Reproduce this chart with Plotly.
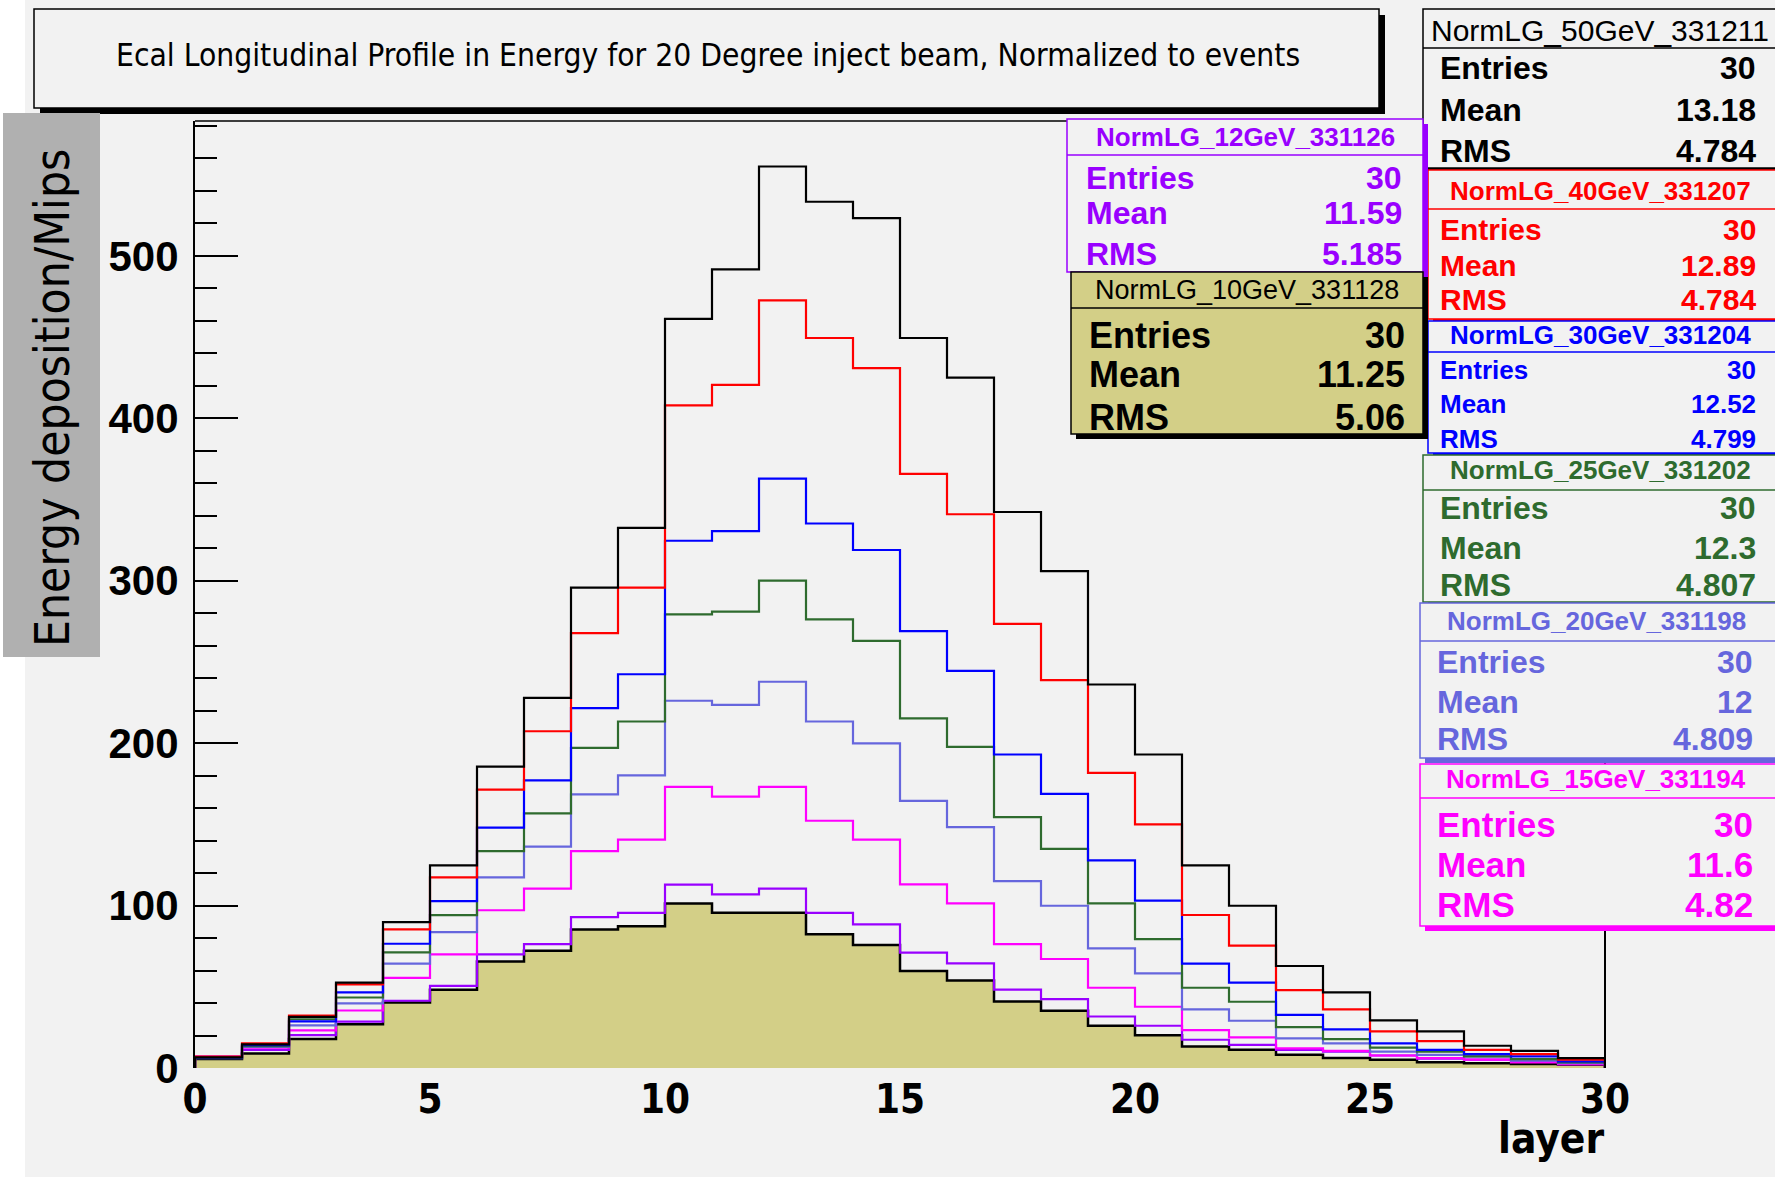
import plotly.graph_objects as go

# ---------------- data ----------------
edges = list(range(31))  # layer bin edges 0..30

e10 = [5.5, 9.0, 17.9, 27.0, 40.4, 48.2, 65.5, 72.2, 85.3, 87.3, 101.2, 95.5, 95.5, 82.4, 75.7,
       59.7, 53.8, 41.0, 35.3, 26.0, 20.1, 13.3, 11.3, 8.1, 6.1, 5.1, 3.6, 3.0, 2.4, 2.0]
e12 = [7.0, 11.1, 20.2, 28.5, 41.4, 50.6, 70.0, 76.3, 92.9, 95.5, 112.9, 106.9, 110.4, 95.5, 88.4,
       71.0, 64.4, 48.2, 42.4, 31.7, 26.0, 17.4, 14.2, 11.1, 10.1, 7.7, 5.8, 5.2, 4.6, 3.4]
e15 = [6.8, 12.5, 23.2, 35.4, 55.5, 70.0, 97.1, 110.4, 133.5, 140.6, 173.1, 167.1, 173.1, 152.2, 140.6,
       113.0, 101.3, 76.3, 67.1, 49.4, 37.7, 23.3, 18.8, 12.1, 10.5, 7.7, 6.1, 5.1, 3.5, 2.2]
e20 = [6.0, 13.0, 26.3, 39.8, 64.3, 83.7, 117.3, 136.3, 168.4, 180.2, 226.1, 223.5, 237.8, 213.3, 199.8,
       164.5, 148.3, 115.0, 99.9, 73.6, 58.2, 36.1, 29.1, 18.2, 15.2, 10.1, 8.1, 7.1, 4.5, 3.0]
e25 = [6.3, 13.5, 30.0, 43.4, 71.2, 94.1, 133.5, 156.7, 197.1, 213.3, 279.3, 280.9, 300.0, 276.2, 263.0,
       215.2, 197.7, 154.4, 134.9, 101.3, 79.4, 49.4, 40.8, 25.2, 17.8, 12.5, 10.1, 7.1, 5.5, 3.5]
e30 = [6.5, 14.0, 28.7, 46.5, 76.5, 102.7, 148.0, 177.1, 221.6, 242.4, 324.6, 330.5, 362.8, 335.2, 318.9,
       268.9, 244.5, 193.0, 168.8, 127.8, 103.0, 64.2, 52.5, 32.7, 23.8, 15.2, 11.1, 8.5, 7.1, 4.1]
e40 = [7.0, 15.2, 32.3, 51.5, 85.3, 117.3, 171.4, 207.3, 267.7, 295.7, 407.9, 420.5, 472.6, 449.4, 430.9,
       365.7, 340.9, 273.4, 238.8, 181.7, 150.0, 94.2, 75.3, 48.0, 36.1, 22.6, 16.6, 11.1, 8.5, 5.1]
e50 = [6.5, 14.5, 31.5, 52.5, 89.8, 124.7, 185.5, 227.8, 295.7, 332.5, 461.2, 491.7, 555.0, 533.3, 523.2,
       449.4, 425.0, 342.3, 305.9, 236.1, 193.0, 124.7, 99.9, 62.8, 46.6, 29.3, 22.6, 13.7, 10.5, 6.1]

hist_names = ["NormLG_10GeV_331128", "NormLG_12GeV_331126", "NormLG_15GeV_331194", "NormLG_20GeV_331198",
              "NormLG_25GeV_331202", "NormLG_30GeV_331204", "NormLG_40GeV_331207", "NormLG_50GeV_331211"]
hist_values = [e10, e12, e15, e20, e25, e30, e40, e50]
entries = ["30", "30", "30", "30", "30", "30", "30", "30"]
means = ["11.25", "11.59", "11.6", "12", "12.3", "12.52", "12.89", "13.18"]
rmss = ["5.06", "5.185", "4.82", "4.809", "4.807", "4.799", "4.784", "4.784"]

y_ticks = [0, 100, 200, 300, 400, 500]
x_ticks = [0, 5, 10, 15, 20, 25, 30]

title_text = "Ecal Longitudinal Profile in Energy for 20 Degree inject beam, Normalized to events"
ytitle_text = "Energy deposition/Mips"
xtitle_text = "layer"

# ---------------- styles ----------------
colors = ["#000000", "#9900ff", "#ff00ff", "#6666dd", "#2e6b2e", "#0000ff", "#ff0000", "#000000"]
OLIVE = "#d3cf87"
CANVAS = "#f2f2f2"
NARROW = "Liberation Sans Narrow, DejaVu Sans Condensed, Arial Narrow, sans-serif"
SANS = "Liberation Sans, Arial, Helvetica, sans-serif"

W, H = 1775, 1180
ML, MR, MT, MB = 195, 170, 121, 112
PW = W - ML - MR
PH = H - MT - MB


def X(px):
    return (px - ML) / PW


def Y(py):
    return (H - MB - py) / PH


fig = go.Figure()

for i, (name, vals) in enumerate(zip(hist_names, hist_values)):
    xs = [edges[0]] + edges + [edges[-1]]
    ys = [0] + list(vals) + [vals[-1], 0]
    if i == 0:
        fig.add_trace(go.Scatter(x=xs, y=ys, mode="lines", line=dict(color="black", width=2.5, shape="hv"),
                                 fill="tozeroy", fillcolor=OLIVE, name=name, showlegend=False))
    else:
        fig.add_trace(go.Scatter(x=xs, y=ys, mode="lines", line=dict(color=colors[i], width=2.2, shape="hv"),
                                 name=name, showlegend=False))

shapes = []
annotations = []


def rect(x0, y0, x1, y1, fill, line_color=None, lw=0, layer="above"):
    shapes.append(dict(type="rect", xref="paper", yref="paper", x0=X(x0), x1=X(x1), y0=Y(y1), y1=Y(y0),
                       fillcolor=fill, line=dict(color=line_color or fill, width=lw), layer=layer))


def hline(x0, x1, y, color, lw):
    shapes.append(dict(type="line", xref="paper", yref="paper", x0=X(x0), x1=X(x1), y0=Y(y), y1=Y(y),
                       line=dict(color=color, width=lw), layer="above"))


def vline(x, y0, y1, color, lw):
    shapes.append(dict(type="line", xref="paper", yref="paper", x0=X(x), x1=X(x), y0=Y(y0), y1=Y(y1),
                       line=dict(color=color, width=lw), layer="above"))


def text(px, py, s, size, color="black", family=SANS, bold=False, anchor="center", angle=0):
    annotations.append(dict(xref="paper", yref="paper", x=X(px), y=Y(py), text=s, showarrow=False,
                            xanchor=anchor, yanchor="middle", textangle=angle,
                            font=dict(family=family, size=size, color=color,
                                      weight="bold" if bold else "normal")))


# canvas background
rect(25, 0, 1800, 1177, CANVAS, layer="below")

# frame top / right
hline(ML, W - MR, MT, "black", 1.5)
vline(W - MR, MT, H - MB, "black", 2)

# title box
rect(40, 15, 1385, 114, "black")
rect(34, 9, 1379, 108, CANVAS, "black", 1.5)
text(708, 55, title_text, 31.5, family=NARROW)

# y title box
rect(3, 113, 100, 657, "#b0b0b0")
text(52, 398, ytitle_text, 47.5, family=NARROW, angle=-90)

# x title
text(1551, 1138, xtitle_text, 42, family=NARROW, bold=True)

# stat boxes: index into hist arrays, geometry in px
boxes = [
    # idx, x0, y0, x1, y1, sep, head_x, head_y, head_anchor, head_size, head_bold, rows_y, lab_x, val_x, row_size, fill, shadow
    (7, 1423, 9, 1800, 168, 48, 1429, 30, "left", 30, False, (68, 110, 151), 1438, 1758, 32, CANVAS, "black"),
    (6, 1428, 170, 1800, 319, 209, 1600, 191, "center", 26, True, (229, 265, 300), 1438, 1758, 30, CANVAS, "#ff0000"),
    (5, 1428, 321, 1800, 453, 352, 1600, 335, "center", 26, True, (370, 404, 439), 1438, 1758, 26, CANVAS, "#0000ff"),
    (4, 1423, 455, 1800, 602, 490, 1600, 470, "center", 26, True, (508, 548, 585), 1438, 1758, 32, CANVAS, "#2e6b2e"),
    (3, 1420, 603, 1800, 758, 641, 1596, 621, "center", 26, True, (662, 702, 739), 1435, 1755, 32, CANVAS, "#6666dd"),
    (2, 1420, 764, 1800, 926, 798, 1596, 779, "center", 26, True, (824, 864, 904), 1435, 1755, 35, CANVAS, "#ff00ff"),
    (1, 1067, 119, 1423, 272, 155, 1245, 137, "center", 26, True, (178, 213, 254), 1084, 1404, 32, CANVAS, "#9900ff"),
    (0, 1071, 272, 1423, 434, 308, 1247, 290, "center", 27, False, (335, 375, 417), 1087, 1407, 36, OLIVE, "black"),
]

for (idx, x0, y0, x1, y1, sep, hx, hy, ha, hs, hb, rows, lx, vx, rs, fill, shadow) in boxes:
    col = colors[idx]
    rect(x0 + 5, y0 + 5, x1 + 5, y1 + 5, shadow)
    rect(x0, y0, x1, y1, fill, col, 1.5)
    hline(x0, x1, sep, col, 1.5)
    text(hx, hy, hist_names[idx], hs, color=col, bold=hb, anchor=ha)
    for lab, val, ry in zip(["Entries", "Mean", "RMS"], [entries[idx], means[idx], rmss[idx]], rows):
        text(lx, ry, lab, rs, color=col, bold=True, anchor="left")
        text(vx, ry, val, rs, color=col, bold=True, anchor="right")

fig.update_layout(
    width=W, height=H, autosize=False,
    margin=dict(l=ML, r=MR, t=MT, b=MB, pad=0),
    paper_bgcolor="white", plot_bgcolor=CANVAS,
    showlegend=False,
    shapes=shapes, annotations=annotations,
    xaxis=dict(range=[0, 30], tickvals=x_ticks, ticktext=[str(v) for v in x_ticks], ticks="",
               showgrid=False, zeroline=False, showline=False,
               tickfont=dict(family=NARROW, size=40, color="black", weight="bold"), ticklabelstandoff=4),
    yaxis=dict(range=[0, 583], tickvals=y_ticks, ticktext=[str(v) for v in y_ticks], ticks="inside",
               ticklen=43, tickwidth=2, tickcolor="black",
               minor=dict(dtick=20, tick0=0, ticks="inside", ticklen=22, tickwidth=2, tickcolor="black"),
               showgrid=False, zeroline=False, showline=True, linecolor="black", linewidth=2,
               tickfont=dict(family=SANS, size=42, color="black", weight="bold"), ticklabelstandoff=6),
)

fig.write_html("out.html")
